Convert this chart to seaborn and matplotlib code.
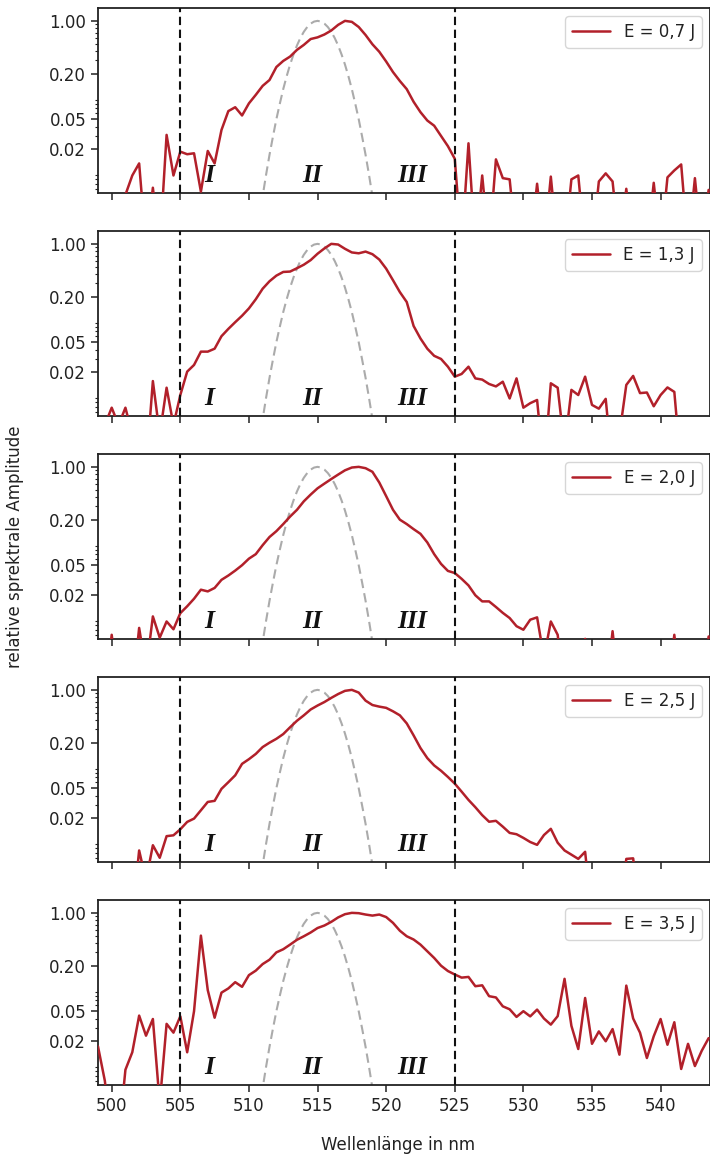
import numpy as np
import pandas as pd
import matplotlib
matplotlib.use("Agg")
import matplotlib.pyplot as plt
import matplotlib.ticker as mticker
import matplotlib.transforms as mtransforms
import seaborn as sns

# ---------------- data ----------------
wavelength = [
    499.0, 499.5, 500.0, 500.5, 501.0, 501.5, 502.0, 502.5, 503.0, 503.5,
    504.0, 504.5, 505.0, 505.5, 506.0, 506.5, 507.0, 507.5, 508.0, 508.5,
    509.0, 509.5, 510.0, 510.5, 511.0, 511.5, 512.0, 512.5, 513.0, 513.5,
    514.0, 514.5, 515.0, 515.5, 516.0, 516.5, 517.0, 517.5, 518.0, 518.5,
    519.0, 519.5, 520.0, 520.5, 521.0, 521.5, 522.0, 522.5, 523.0, 523.5,
    524.0, 524.5, 525.0, 525.5, 526.0, 526.5, 527.0, 527.5, 528.0, 528.5,
    529.0, 529.5, 530.0, 530.5, 531.0, 531.5, 532.0, 532.5, 533.0, 533.5,
    534.0, 534.5, 535.0, 535.5, 536.0, 536.5, 537.0, 537.5, 538.0, 538.5,
    539.0, 539.5, 540.0, 540.5, 541.0, 541.5, 542.0, 542.5, 543.0, 543.5,
]

amp_07 = [
    0.001, 0.001, 0.001, 0.001, 0.005, 0.009, 0.013, 0.001, 0.0062, 0.001,
    0.031, 0.009, 0.0186, 0.0172, 0.0177, 0.0055, 0.019, 0.013, 0.036, 0.064,
    0.072, 0.056, 0.081, 0.105, 0.138, 0.165, 0.245, 0.295, 0.337, 0.413,
    0.481, 0.575, 0.605, 0.66, 0.745, 0.885, 1.0, 0.97, 0.83, 0.65,
    0.49, 0.39, 0.29, 0.21, 0.16, 0.125, 0.085, 0.062, 0.048, 0.041,
    0.03, 0.022, 0.015, 0.001, 0.024, 0.001, 0.009, 0.001, 0.0147, 0.0083,
    0.008, 0.001, 0.001, 0.001, 0.007, 0.001, 0.0087, 0.001, 0.001, 0.008,
    0.009, 0.001, 0.001, 0.0075, 0.0096, 0.0075, 0.001, 0.006, 0.001, 0.001,
    0.001, 0.0072, 0.001, 0.0085, 0.0105, 0.0126, 0.001, 0.0083, 0.001, 0.0058,
]

amp_13 = [
    0.001, 0.004, 0.0068, 0.004, 0.0068, 0.003, 0.001, 0.001, 0.0153, 0.003,
    0.0125, 0.004, 0.01, 0.0204, 0.025, 0.0375, 0.0375, 0.041, 0.06, 0.075,
    0.092, 0.112, 0.14, 0.185, 0.255, 0.32, 0.38, 0.425, 0.43, 0.476,
    0.53, 0.61, 0.74, 0.87, 1.0, 0.98, 0.86, 0.77, 0.75, 0.79,
    0.73, 0.62, 0.47, 0.33, 0.23, 0.17, 0.082, 0.056, 0.041, 0.033,
    0.03, 0.0237, 0.0175, 0.019, 0.0237, 0.0166, 0.016, 0.014, 0.013, 0.015,
    0.009, 0.0166, 0.0068, 0.0078, 0.0086, 0.001, 0.0143, 0.0125, 0.002, 0.0117,
    0.01, 0.0175, 0.0074, 0.0066, 0.0089, 0.001, 0.003, 0.0136, 0.0179, 0.0106,
    0.0108, 0.0071, 0.01, 0.0126, 0.011, 0.001, 0.001, 0.001, 0.001, 0.001,
]

amp_20 = [
    0.001, 0.001, 0.006, 0.001, 0.001, 0.001, 0.0074, 0.002, 0.0105, 0.0055,
    0.009, 0.0071, 0.0116, 0.0143, 0.018, 0.0237, 0.0225, 0.025, 0.032, 0.0365,
    0.0424, 0.05, 0.061, 0.07, 0.092, 0.118, 0.141, 0.175, 0.22, 0.27,
    0.35, 0.43, 0.52, 0.6, 0.69, 0.79, 0.9, 0.98, 1.0, 0.96,
    0.86, 0.62, 0.41, 0.27, 0.2, 0.175, 0.15, 0.13, 0.1, 0.07,
    0.052, 0.042, 0.0394, 0.033, 0.027, 0.02, 0.0166, 0.0166, 0.014, 0.0117,
    0.01, 0.0078, 0.007, 0.0095, 0.0102, 0.003, 0.009, 0.006, 0.001, 0.001,
    0.001, 0.0053, 0.001, 0.001, 0.001, 0.0067, 0.001, 0.001, 0.001, 0.001,
    0.001, 0.001, 0.001, 0.001, 0.006, 0.001, 0.001, 0.001, 0.001, 0.0057,
]

amp_25 = [
    0.001, 0.001, 0.001, 0.001, 0.001, 0.001, 0.0075, 0.003, 0.0088, 0.006,
    0.0116, 0.0119, 0.0143, 0.0179, 0.0198, 0.0255, 0.0329, 0.034, 0.049, 0.06,
    0.074, 0.105, 0.121, 0.142, 0.175, 0.2, 0.225, 0.26, 0.32, 0.39,
    0.46, 0.55, 0.62, 0.69, 0.783, 0.88, 0.97, 1.0, 0.92, 0.72,
    0.63, 0.6, 0.578, 0.52, 0.46, 0.36, 0.25, 0.17, 0.125, 0.1,
    0.085, 0.0704, 0.0575, 0.045, 0.035, 0.028, 0.022, 0.018, 0.0185, 0.0155,
    0.0128, 0.0123, 0.011, 0.0097, 0.0089, 0.012, 0.0145, 0.0095, 0.0075, 0.0066,
    0.0058, 0.0072, 0.001, 0.001, 0.001, 0.001, 0.001, 0.0058, 0.0059, 0.001,
    0.001, 0.001, 0.001, 0.001, 0.001, 0.001, 0.001, 0.001, 0.001, 0.001,
]

amp_35 = [
    0.0171, 0.006, 0.001, 0.001, 0.0084, 0.0143, 0.0437, 0.0237, 0.0394, 0.003,
    0.034, 0.026, 0.0428, 0.0143, 0.05, 0.5, 0.095, 0.041, 0.088, 0.1,
    0.121, 0.105, 0.15, 0.172, 0.21, 0.24, 0.3, 0.33, 0.38, 0.44,
    0.49, 0.55, 0.63, 0.68, 0.76, 0.87, 0.96, 1.0, 0.99, 0.95,
    0.92, 0.95, 0.88, 0.737, 0.58, 0.49, 0.444, 0.38, 0.31, 0.253,
    0.2, 0.17, 0.153, 0.139, 0.142, 0.107, 0.11, 0.079, 0.076, 0.058,
    0.053, 0.042, 0.05, 0.0427, 0.0525, 0.04, 0.0332, 0.043, 0.134, 0.032,
    0.0158, 0.0748, 0.0185, 0.027, 0.02, 0.029, 0.0133, 0.109, 0.04, 0.026,
    0.012, 0.0233, 0.0394, 0.018, 0.0357, 0.0086, 0.0185, 0.0094, 0.015, 0.022,
]

energy_labels = ["E = 0,7 J", "E = 1,3 J", "E = 2,0 J", "E = 2,5 J", "E = 3,5 J"]
spectra = [amp_07, amp_13, amp_20, amp_25, amp_35]

# reference pulse (grey dashed)
ref_wavelength = [
    510.75, 511.0, 511.25, 511.5, 511.75, 512.0, 512.25, 512.5, 512.75,
    513.0, 513.25, 513.5, 513.75, 514.0, 514.25, 514.5, 514.75, 515.0,
    515.25, 515.5, 515.75, 516.0, 516.25, 516.5, 516.75, 517.0, 517.25,
    517.5, 517.75, 518.0, 518.25, 518.5, 518.75, 519.0, 519.25,
]
ref_amp = [
    0.0024, 0.0048, 0.0092, 0.0169, 0.0294, 0.050, 0.080, 0.125, 0.185,
    0.264, 0.360, 0.472, 0.594, 0.717, 0.829, 0.920, 0.979, 1.0,
    0.979, 0.920, 0.829, 0.717, 0.594, 0.472, 0.360, 0.264, 0.185,
    0.125, 0.080, 0.050, 0.0294, 0.0169, 0.0092, 0.0048, 0.0024,
]

region_boundaries = [505, 525]
region_labels = ["I", "II", "III"]
region_label_x = [507.1, 514.6, 521.9]

y_ticks = [0.02, 0.05, 0.2, 1.0]
y_tick_labels = ["0.02", "0.05", "0.20", "1.00"]
x_ticks = [500, 505, 510, 515, 520, 525, 530, 535, 540]

# ---------------- plot ----------------
sns.set_style("ticks")
plt.rcParams["font.family"] = ["DejaVu Sans"]
plt.rcParams["axes.edgecolor"] = "#222222"
plt.rcParams["xtick.color"] = "#222222"
plt.rcParams["ytick.color"] = "#222222"
plt.rcParams["text.color"] = "#222222"

fig, axes = plt.subplots(5, 1, figsize=(7.10, 11.58), dpi=100, sharex=True)
fig.subplots_adjust(left=0.138, right=1.0, top=0.9931, bottom=0.063, hspace=0.205)

red = "#b2202a"
for ax, amp, lab in zip(axes, spectra, energy_labels):
    df = pd.DataFrame({"wl": wavelength, "amp": amp})
    ref = pd.DataFrame({"wl": ref_wavelength, "amp": ref_amp})
    sns.lineplot(data=ref, x="wl", y="amp", ax=ax, color="#ababab",
                 linestyle=(0, (4.5, 2.5)), linewidth=1.5, estimator=None,
                 sort=False, zorder=2)
    sns.lineplot(data=df, x="wl", y="amp", ax=ax, color=red, linewidth=1.8,
                 estimator=None, sort=False, label=lab, zorder=3)
    for b in region_boundaries:
        ax.axvline(b, color="#111111", linestyle=(0, (4, 2.2)), linewidth=1.5, zorder=4)
    ax.set_yscale("log")
    ax.set_ylim(0.00527, 1.48)
    ax.set_xlim(499.0, 543.6)
    ax.set_yticks(y_ticks)
    ax.set_yticklabels(y_tick_labels)
    ax.yaxis.set_minor_formatter(mticker.NullFormatter())
    ax.set_xticks(x_ticks)
    ax.tick_params(axis="both", which="major", labelsize=12, length=5, width=1.1)
    ax.tick_params(axis="y", which="minor", length=2.5, width=0.8)
    ax.set_xlabel("")
    ax.set_ylabel("")
    for s in ax.spines.values():
        s.set_linewidth(1.3)
    trans = mtransforms.blended_transform_factory(ax.transData, ax.transAxes)
    for tx, tl in zip(region_label_x, region_labels):
        ax.text(tx, 0.095, tl, transform=trans, ha="center", va="center",
                fontsize=18.5, fontweight="bold", fontstyle="italic",
                family=["Liberation Serif", "DejaVu Serif"], color="#111111")
    leg = ax.legend(loc="upper right", fontsize=12, handlelength=2.3,
                    borderaxespad=0.5, frameon=True)
    leg.get_frame().set_edgecolor("#cccccc")

axes[-1].tick_params(axis="x", labelbottom=True)
fig.text(0.56, 0.0115, "Wellenlänge in nm", ha="center", va="center", fontsize=12)
fig.text(0.021, 0.528, "relative sprektrale Amplitude", ha="center", va="center",
         rotation=90, fontsize=12)

fig.savefig("out.png", dpi=100)
